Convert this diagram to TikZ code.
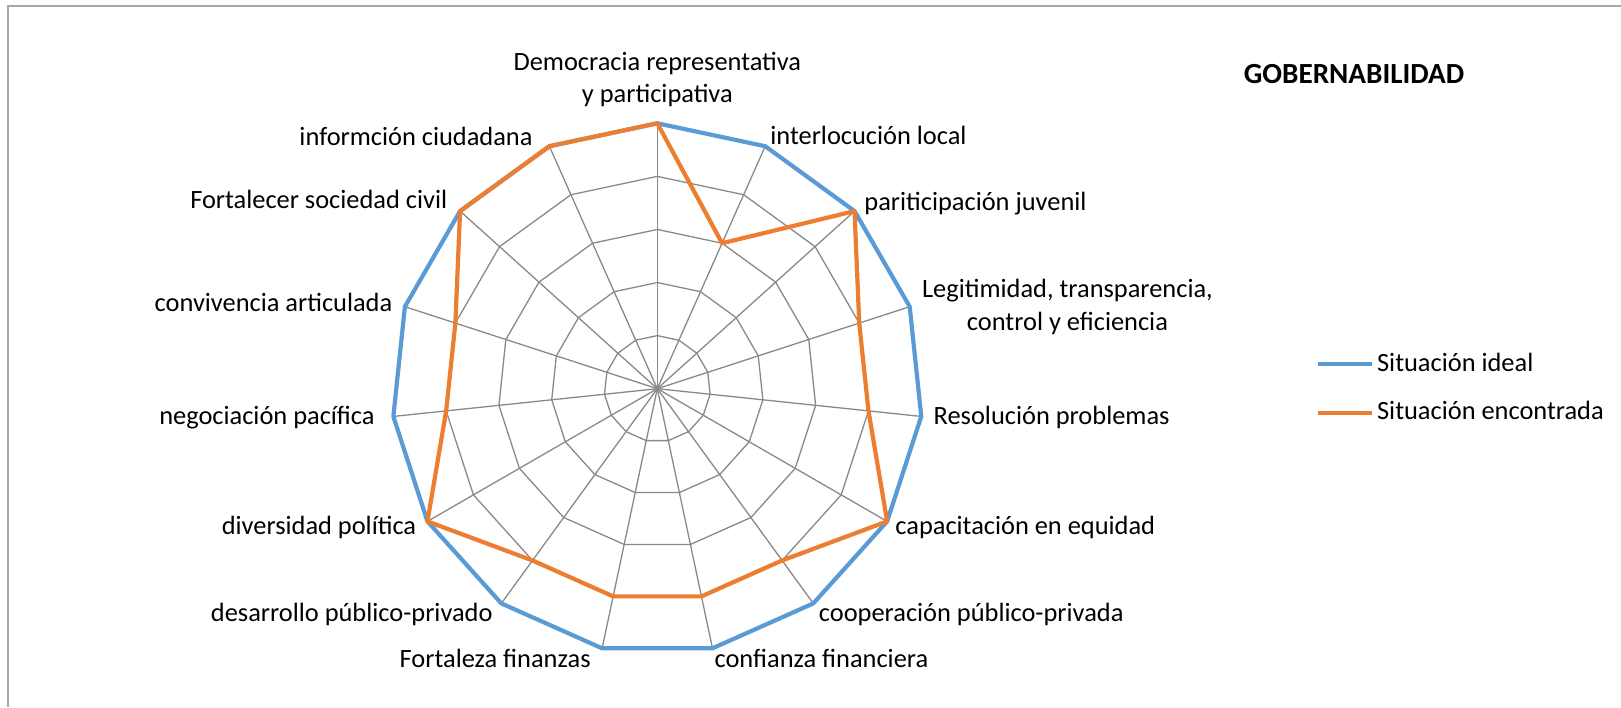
\documentclass[tikz,border=0pt]{standalone}
\usepackage{fontspec}
\setmainfont{Carlito}
\usetikzlibrary{positioning}
\definecolor{idealblue}{HTML}{5B9BD5}
\definecolor{foundorange}{HTML}{ED7D31}
\definecolor{gridgray}{HTML}{898989}
\definecolor{framegray}{HTML}{A6A6A6}

\begin{document}
\begin{tikzpicture}[x=0.5pt,y=0.5pt,
    lbl/.style={inner sep=0pt,font=\fontsize{13.2}{16.2}\selectfont,text height=0.73em,text depth=0.25em,align=center},
    web/.style={draw=gridgray,line width=0.65pt},
    ideal/.style={draw=idealblue,line width=2.1pt,line join=round},
    found/.style={draw=foundorange,line width=2.1pt,line join=round}]
  \useasboundingbox (0,0) rectangle (1621,707);
  \draw[framegray,line width=0.7pt] (8,0) -- (8,701) -- (1621,701);
  \coordinate (O) at (657.3,318.3);
  \begin{scope}[shift={(O)}]
    \foreach \k in {0,...,14}
      \coordinate (v\k) at (90-24*\k:265.4);
    \foreach \k/\v in {0/5,1/3,2/5,3/4,4/4,5/5,6/4,7/4,8/4,9/4,10/5,11/4,12/4,13/5,14/5}
      \coordinate (e\k) at (90-24*\k:53.08*\v);
    % web
    \foreach \l in {1,...,5}
      \draw[web] (90:53.08*\l) \foreach \k in {1,...,14} { -- (90-24*\k:53.08*\l) } -- cycle;
    \foreach \k in {0,...,14}
      \draw[web] (0,0) -- (v\k);
  \end{scope}
  % series
  \draw[ideal] (v0) -- (v1) -- (v2) -- (v3) -- (v4) -- (v5) -- (v6) -- (v7)
    -- (v8) -- (v9) -- (v10) -- (v11) -- (v12) -- (v13) -- (v14) -- cycle;
  \draw[found] (e0) -- (e1) -- (e2) -- (e3) -- (e4) -- (e5) -- (e6) -- (e7)
    -- (e8) -- (e9) -- (e10) -- (e11) -- (e12) -- (e13) -- (e14) -- cycle;

  % axis labels
  \node[lbl,anchor=south] (demo) at (657.3,599) {Democracia representativa\\y participativa};
  \node[lbl,anchor=west] (inter) at (770,567.3) {interlocución local};
  \node[lbl,anchor=west] (juven) at (864,501.4) {pariticipación juvenil};
  \node[lbl,anchor=west] (legit) at (921.7,381.5) {Legitimidad, transparencia,\\control y eficiencia};
  \node[lbl,anchor=west] (resol) at (933.3,287.3) {Resolución problemas};
  \node[lbl,anchor=west] (capac) at (895,177) {capacitación en equidad};
  \node[lbl,anchor=west] (coop) at (818.5,90.7) {cooperación público-privada};
  \node[lbl,anchor=west] (confi) at (714.2,44.7) {confianza financiera};
  \node[lbl,anchor=east] (forta) at (591,44.7) {Fortaleza finanzas};
  \node[lbl,anchor=east] (desar) at (493,90.7) {desarrollo público-privado};
  \node[lbl,anchor=east] (diver) at (416.6,177) {diversidad política};
  \node[lbl,anchor=east] (negoc) at (375,287.3) {negociación pacífica};
  \node[lbl,anchor=east] (convi) at (392.7,400.7) {convivencia articulada};
  \node[lbl,anchor=east] (socie) at (447.6,503.5) {Fortalecer sociedad civil};
  \node[lbl,anchor=east] (infor) at (533,566.5) {informción ciudadana};

  % title and legend
  \node[inner sep=0pt,font=\fontsize{14.6}{17}\selectfont\bfseries] (title) at (1354,633.3) {GOBERNABILIDAD};
  \coordinate (legIa) at (1318,342.7);
  \coordinate (legIb) at (1372,342.7);
  \coordinate (legFa) at (1318,294.3);
  \coordinate (legFb) at (1372,294.3);
  \draw[ideal] (legIa) -- (legIb);
  \draw[found] (legFa) -- (legFb);
  \node[lbl,right=4.7 of legIb,yshift=-1.2pt] (legI) {Situación ideal};
  \node[lbl,right=4.7 of legFb,yshift=-1.2pt] (legF) {Situación encontrada};
\end{tikzpicture}
\end{document}
